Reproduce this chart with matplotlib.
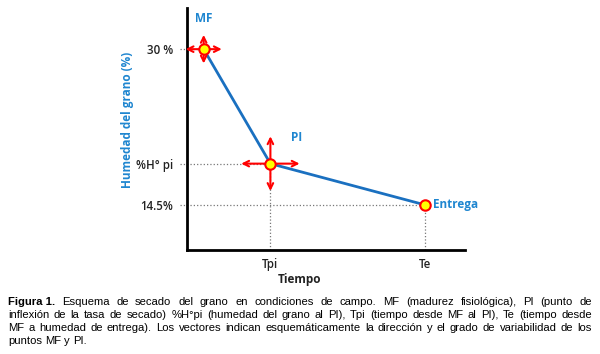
import matplotlib.pyplot as plt

# Points of the drying scheme (schematic units)
point_names = ['MF', 'PI', 'Entrega']
point_x = [0.6, 3.0, 8.55]
point_y = [30.0, 18.6, 14.5]

# arrow half-lengths (x, y) showing variability of MF and PI
arrow_dx = [0.75, 1.15]
arrow_dy = [1.7, 3.0]

ytick_vals = [30.0, 18.6, 14.5]
ytick_labels = ['30 %', '%H° pi', '14.5%']
xtick_vals = [3.0, 8.55]
xtick_labels = ['Tpi', 'Te']

caption_lines = [
    'Esquema de secado del grano en condiciones de campo. MF (madurez fisiológica), PI (punto de',
    'inflexión de la tasa de secado) %H°pi (humedad del grano al PI), Tpi (tiempo desde MF al PI), Te (tiempo desde',
    'MF a humedad de entrega). Los vectores indican esquemáticamente la dirección y el grado de variabilidad de los',
    'puntos MF y PI.',
]

BLUE = '#1a70c0'
LABEL_BLUE = '#1f86d0'

fig = plt.figure(figsize=(6, 3.54), dpi=100)
ax = fig.add_axes([187 / 600, 1 - 250 / 354, 278 / 600, 242 / 354])
ax.set_xlim(0, 10)
ax.set_ylim(10, 34.1)

for s in ['top', 'right']:
    ax.spines[s].set_visible(False)
for s in ['left', 'bottom']:
    ax.spines[s].set_linewidth(2)
    ax.spines[s].set_color('black')

# guide lines
for x, y in zip(point_x, point_y):
    ax.plot([-0.25, x], [y, y], ls=':', color='#777777', lw=0.9, clip_on=False)
for x, y in zip(point_x[1:], point_y[1:]):
    ax.plot([x, x], [10, y], ls=':', color='#777777', lw=0.9)

ax.plot(point_x, point_y, color=BLUE, lw=2, zorder=3)

# variability arrows
for x, y, dx, dy in zip(point_x[:2], point_y[:2], arrow_dx, arrow_dy):
    ax.annotate('', xy=(x - dx, y), xytext=(x + dx, y), annotation_clip=False,
                arrowprops=dict(arrowstyle='<->', color='red', lw=1.5, mutation_scale=10), zorder=4)
    ax.annotate('', xy=(x, y - dy), xytext=(x, y + dy), annotation_clip=False,
                arrowprops=dict(arrowstyle='<->', color='red', lw=1.5, mutation_scale=10), zorder=4)

ax.plot(point_x, point_y, 'o', ms=7.5, mfc='yellow', mec='red', mew=1.5, ls='none', zorder=5)

ax.text(point_x[0], 33.1, point_names[0], color=LABEL_BLUE, fontsize=8.5, fontweight='bold',
        ha='center', va='center', family='Open Sans')
ax.text(point_x[1] + 0.95, point_y[1] + 2.6, point_names[1], color=LABEL_BLUE, fontsize=8.5,
        fontweight='bold', ha='center', va='center', family='Open Sans')
ax.text(point_x[2] + 0.3, point_y[2], point_names[2], color=LABEL_BLUE, fontsize=8.5,
        fontweight='bold', ha='left', va='center', family='Open Sans')

ax.set_yticks(ytick_vals)
ax.set_yticklabels(ytick_labels, fontsize=8.3, fontweight='semibold', color='#222222', family='Open Sans')
ax.set_xticks(xtick_vals)
ax.set_xticklabels(xtick_labels, fontsize=8.3, fontweight='semibold', color='#222222', family='Open Sans')
ax.tick_params(length=0, pad=10)
ax.tick_params(axis='x', pad=6)

fig.text(300 / 600, 1 - 280 / 354, 'Tiempo', fontsize=8.5, fontweight='bold', ha='center',
         va='center', color='#222222', family='Open Sans')
fig.text(128 / 600, 1 - 120 / 354, 'Humedad del grano (%)', fontsize=8.5, fontweight='bold',
         rotation=90, ha='center', va='center', color=LABEL_BLUE, family='Open Sans')

# justified caption
fig.canvas.draw()
renderer = fig.canvas.get_renderer()
left, right = 8, 592
line_y = [302, 315, 328, 341]
cap_font = dict(fontsize=8.1, family='Liberation Sans', va='center', ha='left')


def word_width(t):
    return t.get_window_extent(renderer).width


for i, (line, yy) in enumerate(zip(caption_lines, line_y)):
    words = line.split(' ')
    if i == 0:
        words = ['Figura 1.'] + words
    texts = []
    for j, w in enumerate(words):
        bold = (i == 0 and j == 0)
        t = fig.text(0, 1 - yy / 354, w, fontweight='bold' if bold else 'normal', **cap_font)
        texts.append(t)
    widths = [word_width(t) for t in texts]
    if i < len(caption_lines) - 1:
        gap = (right - left - sum(widths)) / (len(words) - 1)
    else:
        gap = 3.0
    x = left
    for t, w in zip(texts, widths):
        t.set_x(x / 600)
        x += w + gap

fig.savefig('out.png', dpi=100)
